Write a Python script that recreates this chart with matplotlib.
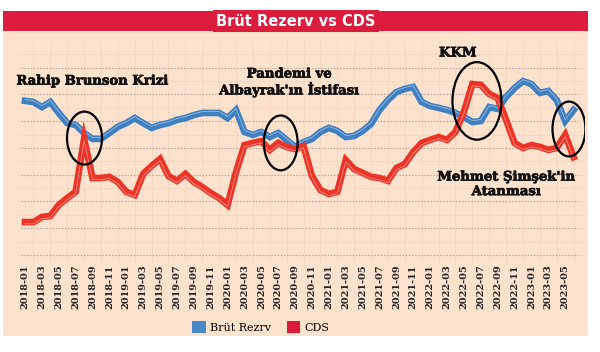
import matplotlib
matplotlib.use('Agg')
import matplotlib.pyplot as plt
import matplotlib.transforms as mtransforms
import matplotlib.patheffects as pe
from matplotlib.patches import Ellipse, Rectangle, Patch
import numpy as np

# monthly series, 2018-01 .. 2023-06 (unitless index)
months = ['%d-%02d' % (y, m) for y in range(2018, 2024) for m in range(1, 13)][:66]

brut_rezerv = [5.76, 5.72, 5.53, 5.72, 5.31, 4.93, 4.86, 4.56, 4.34, 4.34,
               4.56, 4.79, 4.93, 5.12, 4.93, 4.75, 4.86, 4.93, 5.05, 5.12,
               5.23, 5.31, 5.31, 5.31, 5.12, 5.42, 4.60, 4.49, 4.60, 4.41,
               4.56, 4.30, 4.04, 4.22, 4.34, 4.60, 4.75, 4.64, 4.41, 4.45,
               4.64, 4.90, 5.42, 5.79, 6.09, 6.21, 6.28, 5.72, 5.57, 5.50,
               5.42, 5.31, 5.16, 4.97, 5.01, 5.53, 5.46, 5.91, 6.24, 6.50,
               6.39, 6.06, 6.13, 5.79, 5.01, 5.42]

cds = [1.23, 1.23, 1.42, 1.46, 1.87, 2.13, 2.36, 4.34, 2.88, 2.88,
       2.92, 2.73, 2.36, 2.24, 3.03, 3.33, 3.59, 2.95, 2.77, 3.03,
       2.73, 2.54, 2.32, 2.13, 1.87, 3.10, 4.11, 4.19, 4.26, 3.93,
       4.19, 4.04, 3.96, 4.07, 2.95, 2.43, 2.28, 2.36, 3.55, 3.21,
       3.07, 2.92, 2.88, 2.77, 3.25, 3.40, 3.85, 4.19, 4.30, 4.41,
       4.30, 4.60, 5.35, 6.39, 6.36, 6.02, 5.87, 5.05, 4.19, 4.00,
       4.11, 4.04, 3.93, 4.00, 4.49, 3.66]

tick_idx = list(range(0, 65, 2))
tick_labels = [months[i] for i in tick_idx]

# annotations: (text, month position, value position)
notes = [
    ('Rahip Brunson Krizi', 8.0, 6.50),
    ("Pandemi ve\nAlbayrak'ın İstifası", 31.3, 6.45),
    ('KKM', 51.3, 7.55),
    ("Mehmet Şimşek'in\nAtanması", 57.0, 2.64),
]
# ellipses: (center month, center value, width months, height value)
circles = [
    (7.05, 4.37, 4.15, 1.98),
    (30.3, 4.19, 4.0, 2.05),
    (53.55, 5.76, 5.8, 2.9),
    (64.45, 4.71, 3.9, 2.05),
]

peach = '#fde2cd'
crimson = '#dc1c3d'
blue = '#3f80c2'
red = '#ec3326'

fig = plt.figure(figsize=(6, 3.52), dpi=100)
fig.patch.set_facecolor('white')

# panel background and title bar
fig.patches.append(Rectangle((3 / 600, 16 / 352), 585 / 600, 325 / 352,
                             transform=fig.transFigure, facecolor=peach,
                             edgecolor='none', zorder=0))
fig.patches.append(Rectangle((3 / 600, 321 / 352), 585 / 600, 20 / 352,
                             transform=fig.transFigure, facecolor=crimson,
                             edgecolor='none', zorder=1))
fig.text(296 / 600, 331 / 352, 'Brüt Rezerv vs CDS', color='white',
         fontsize=10.5, fontweight='bold', family='DejaVu Sans',
         ha='center', va='center',
         bbox=dict(facecolor=crimson, edgecolor='none', pad=2.5))

ax = fig.add_axes([18 / 600, 89 / 352, 567 / 600, 222 / 352])
ax.set_zorder(3)
ax.set_facecolor('none')
ax.set_xlim(-0.83, 66.35)
ax.set_ylim(-0.3, 8)

# faint graph-paper grid
for xv in np.arange(-1, 67, 2):
    ax.axvline(xv, color='#f5d6bf', lw=0.6, zorder=0)
for yv in np.arange(-0.5, 8, 0.5):
    ax.axhline(yv, color='#f5d6bf', lw=0.6, zorder=0)
# dotted major lines
for yv in range(0, 8):
    ax.plot([-0.5, 65.5], [yv, yv], color='#b3a89e', lw=0.9,
            linestyle=(0, (1, 1.5)), zorder=1)

x = np.arange(len(months))
ax.plot(x, brut_rezerv, color=blue, lw=4.8, solid_joinstyle='miter', zorder=3)
ax.plot(x, cds, color=red, lw=4.8, solid_joinstyle='miter', zorder=4)
up = mtransforms.offset_copy(ax.transData, fig=fig, x=0, y=1.4, units='dots')
dn = mtransforms.offset_copy(ax.transData, fig=fig, x=0, y=-1.7, units='dots')
ax.plot(x, brut_rezerv, color='white', lw=0.5, alpha=0.55, transform=up, zorder=3.5)
ax.plot(x, cds, color='white', lw=0.5, alpha=0.55, transform=dn, zorder=4.5)

for cx, cy, w, h in circles:
    ax.add_patch(Ellipse((cx, cy), w, h, fill=False, edgecolor='black',
                         lw=1.6, zorder=6))

for txt, tx, ty in notes:
    ax.text(tx, ty, txt, ha='center', va='center', fontsize=9.5,
            fontweight='bold', family='DejaVu Serif', color='#111111',
            linespacing=1.15, zorder=7,
            path_effects=[pe.withStroke(linewidth=0.5, foreground='#111111')])

ax.set_xticks(tick_idx)
ax.set_xticklabels(tick_labels, rotation=90, fontsize=7,
                   family='DejaVu Serif', fontweight='bold', color='#222222')
ax.tick_params(axis='x', length=0, pad=1)
ax.set_yticks([])
for s in ax.spines.values():
    s.set_visible(False)

handles = [Patch(facecolor='#4a87c6', label='Brüt Rezrv'),
           Patch(facecolor=crimson, label='CDS')]
leg = fig.legend(handles=handles, loc='center', bbox_to_anchor=(261 / 600, 25 / 352),
                 ncol=2, frameon=False, handlelength=1.2, handleheight=1.2,
                 columnspacing=1.4, handletextpad=0.4,
                 prop={'family': 'DejaVu Serif', 'size': 8})
leg.set_zorder(4)

fig.savefig('out.png', dpi=100, facecolor='white')
